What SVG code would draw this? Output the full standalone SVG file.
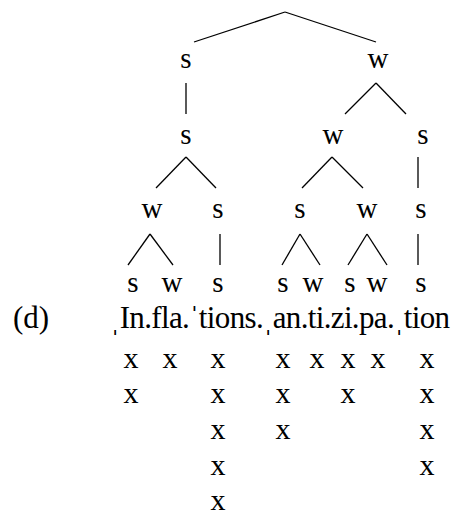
<svg xmlns="http://www.w3.org/2000/svg" width="451" height="515" viewBox="0 0 451 515">
<style>
text{font-family:"Liberation Serif","DejaVu Serif",serif;fill:#000}
.l{font-size:29px;text-anchor:middle}
.x{font-size:30px;text-anchor:middle}
.t{font-size:31px}
#connectors line{stroke:#000;stroke-width:1.3;fill:none}
</style>
<rect width="451" height="515" fill="#fff"/>
<g id="connectors">
<line x1="285" y1="12" x2="194" y2="42"/>
<line x1="285" y1="12" x2="376" y2="42"/>
<line x1="186" y1="83" x2="186" y2="114"/>
<line x1="376" y1="83" x2="345" y2="114"/>
<line x1="376" y1="83" x2="406" y2="114"/>
<line x1="186" y1="157" x2="156" y2="188"/>
<line x1="186" y1="157" x2="216" y2="188"/>
<line x1="332" y1="157" x2="302" y2="188"/>
<line x1="332" y1="157" x2="363" y2="188"/>
<line x1="418" y1="157" x2="418" y2="188"/>
<line x1="150" y1="234" x2="128" y2="265"/>
<line x1="150" y1="234" x2="173" y2="265"/>
<line x1="220" y1="234" x2="220" y2="265"/>
<line x1="300" y1="234" x2="282" y2="265"/>
<line x1="300" y1="234" x2="320" y2="265"/>
<line x1="367" y1="234" x2="348" y2="265"/>
<line x1="367" y1="234" x2="387" y2="265"/>
<line x1="418" y1="234" x2="418" y2="265"/>
</g>
<g id="n1s"><text class="l" x="186" y="68">s</text></g>
<g id="n1w"><text class="l" x="378" y="68">w</text></g>
<g id="n2s"><text class="l" x="186" y="144">s</text></g>
<g id="n2w"><text class="l" x="333" y="144">w</text></g>
<g id="n2s2"><text class="l" x="423" y="144">s</text></g>
<g id="n3w"><text class="l" x="152" y="218">w</text></g>
<g id="n3s"><text class="l" x="218" y="218">s</text></g>
<g id="n3s2"><text class="l" x="300" y="218">s</text></g>
<g id="n3w2"><text class="l" x="367" y="218">w</text></g>
<g id="n3s3"><text class="l" x="421" y="218">s</text></g>
<g id="n4a"><text class="l" x="133" y="292">s</text></g>
<g id="n4b"><text class="l" x="172" y="292">w</text></g>
<g id="n4c"><text class="l" x="218" y="292">s</text></g>
<g id="n4d"><text class="l" x="283" y="292">s</text></g>
<g id="n4e"><text class="l" x="313" y="292">w</text></g>
<g id="n4f"><text class="l" x="350" y="292">s</text></g>
<g id="n4g"><text class="l" x="377" y="292">w</text></g>
<g id="n4h"><text class="l" x="421" y="292">s</text></g>
<g id="label"><text class="t" x="13" y="328">(d)</text></g>
<g id="word"><text class="t" x="110" y="328" textLength="340" lengthAdjust="spacing">ˌIn.fla.ˈtions.ˌan.ti.zi.pa.ˌtion</text></g>
<g id="grid">
<text class="x" x="131" y="368">x</text><text class="x" x="170" y="368">x</text><text class="x" x="218" y="368">x</text><text class="x" x="283" y="368">x</text><text class="x" x="317" y="368">x</text><text class="x" x="348" y="368">x</text><text class="x" x="378" y="368">x</text><text class="x" x="427" y="368">x</text>
<text class="x" x="131" y="403">x</text><text class="x" x="218" y="403">x</text><text class="x" x="283" y="403">x</text><text class="x" x="348" y="403">x</text><text class="x" x="427" y="403">x</text>
<text class="x" x="218" y="439">x</text><text class="x" x="283" y="439">x</text><text class="x" x="427" y="439">x</text>
<text class="x" x="218" y="475">x</text><text class="x" x="427" y="475">x</text>
<text class="x" x="218" y="510">x</text>
</g>
</svg>
